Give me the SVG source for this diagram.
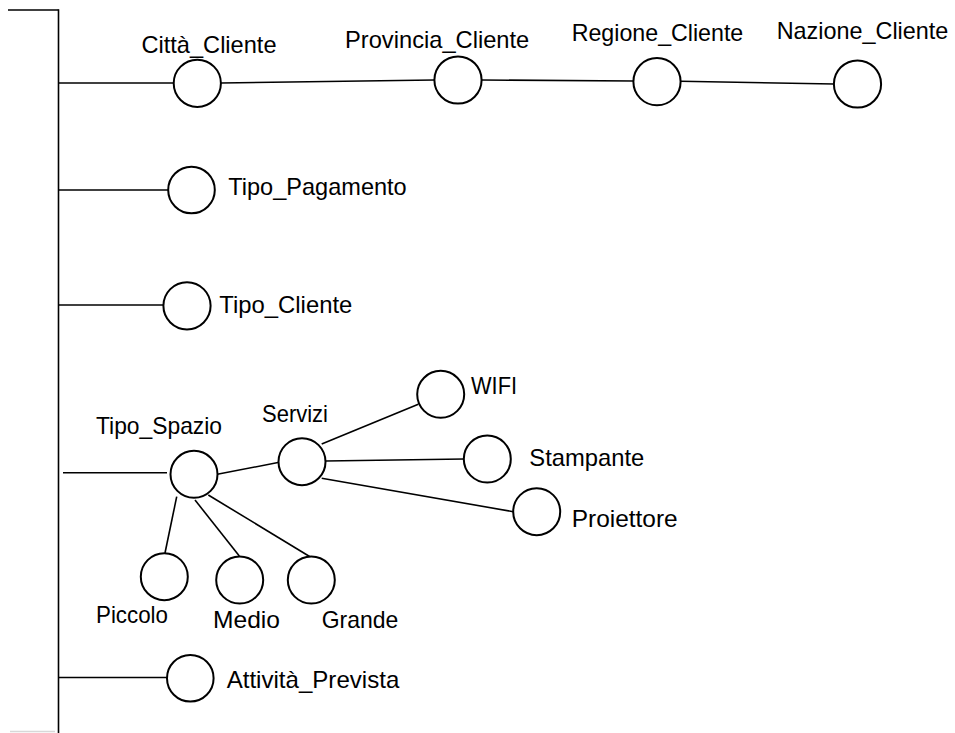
<svg xmlns="http://www.w3.org/2000/svg" width="955" height="733" viewBox="0 0 955 733">
  <style>
    .node circle { fill: #ffffff; stroke: #000000; stroke-width: 2; }
    .edges line { stroke: #000000; stroke-width: 1.6; }
    text { font-family: "Liberation Sans", Arial, sans-serif; font-size: 24px; fill: #000000; }
  </style>
  <rect width="955" height="733" fill="#ffffff"/>

  <!-- connectors -->
  <g id="edges" class="edges">
    <!-- main axis -->
    <line x1="8" y1="10" x2="58.5" y2="10"/>
    <line x1="58.5" y1="9.2" x2="58.5" y2="733"/>
    <line x1="10" y1="731.5" x2="55" y2="731.5" style="stroke:#d8d8d8"/>
    <!-- branches from axis -->
    <line x1="58.5" y1="83" x2="174" y2="83"/>
    <line x1="58.5" y1="190" x2="169" y2="190"/>
    <line x1="58.5" y1="305" x2="164" y2="305"/>
    <line x1="63" y1="472.7" x2="167" y2="472.7"/>
    <line x1="58.5" y1="677.5" x2="168" y2="677.5"/>
    <!-- customer geography chain -->
    <line x1="220.7" y1="83" x2="434.3" y2="80"/>
    <line x1="481.7" y1="80" x2="633.3" y2="81"/>
    <line x1="680.5" y1="81.2" x2="834" y2="84"/>
    <!-- space type -->
    <line x1="217.3" y1="474.3" x2="279.3" y2="462.3"/>
    <line x1="176.7" y1="496.7" x2="165" y2="553"/>
    <line x1="195" y1="500" x2="239.3" y2="556"/>
    <line x1="208.3" y1="495" x2="310" y2="556.7"/>
    <!-- services -->
    <line x1="321.7" y1="444" x2="418.3" y2="404.3"/>
    <line x1="325.5" y1="461" x2="464" y2="459"/>
    <line x1="321.7" y1="478.3" x2="513.3" y2="511.7"/>
  </g>

  <g id="citta_cliente" class="node">
    <circle cx="197.3" cy="83.3" r="23.6"/>
    <text x="141.5" y="53" textLength="135" lengthAdjust="spacingAndGlyphs">Città_Cliente</text>
  </g>
  <g id="provincia_cliente" class="node">
    <circle cx="458" cy="80" r="23.6"/>
    <text x="345" y="48.3" textLength="184.3" lengthAdjust="spacingAndGlyphs">Provincia_Cliente</text>
  </g>
  <g id="regione_cliente" class="node">
    <circle cx="657" cy="81.7" r="23.6"/>
    <text x="571.7" y="40.7" textLength="171.6" lengthAdjust="spacingAndGlyphs">Regione_Cliente</text>
  </g>
  <g id="nazione_cliente" class="node">
    <circle cx="857.5" cy="84" r="23.6"/>
    <text x="776.7" y="39.3" textLength="171.6" lengthAdjust="spacingAndGlyphs">Nazione_Cliente</text>
  </g>
  <g id="tipo_pagamento" class="node">
    <circle cx="191.5" cy="190" r="23.3"/>
    <text x="228.3" y="194.5" textLength="178.4" lengthAdjust="spacingAndGlyphs">Tipo_Pagamento</text>
  </g>
  <g id="tipo_cliente" class="node">
    <circle cx="187" cy="305.8" r="23.6"/>
    <text x="219.3" y="313" textLength="133" lengthAdjust="spacingAndGlyphs">Tipo_Cliente</text>
  </g>
  <g id="tipo_spazio" class="node">
    <circle cx="194" cy="474.3" r="23.5"/>
    <text x="96" y="434" textLength="126" lengthAdjust="spacingAndGlyphs">Tipo_Spazio</text>
  </g>
  <g id="servizi" class="node">
    <circle cx="302" cy="461.7" r="23.5"/>
    <text x="262" y="421.7" textLength="66" lengthAdjust="spacingAndGlyphs">Servizi</text>
  </g>
  <g id="wifi" class="node">
    <circle cx="440.7" cy="394.3" r="23.5"/>
    <text x="471" y="394.3" textLength="46" lengthAdjust="spacingAndGlyphs">WIFI</text>
  </g>
  <g id="stampante" class="node">
    <circle cx="487.3" cy="459" r="23.5"/>
    <text x="529.3" y="466" textLength="115" lengthAdjust="spacingAndGlyphs">Stampante</text>
  </g>
  <g id="proiettore" class="node">
    <circle cx="536.7" cy="511.7" r="23.5"/>
    <text x="571.7" y="526.7" textLength="106" lengthAdjust="spacingAndGlyphs">Proiettore</text>
  </g>
  <g id="piccolo" class="node">
    <circle cx="164.3" cy="576.7" r="23.5"/>
    <text x="96" y="623.3" textLength="72" lengthAdjust="spacingAndGlyphs">Piccolo</text>
  </g>
  <g id="medio" class="node">
    <circle cx="239.7" cy="580" r="23.5"/>
    <text x="213" y="627.7" textLength="67" lengthAdjust="spacingAndGlyphs">Medio</text>
  </g>
  <g id="grande" class="node">
    <circle cx="311.3" cy="580" r="23.5"/>
    <text x="321.7" y="628.3" textLength="76.6" lengthAdjust="spacingAndGlyphs">Grande</text>
  </g>
  <g id="attivita_prevista" class="node">
    <circle cx="190.3" cy="678.3" r="23.3"/>
    <text x="226.7" y="688.3" textLength="172.6" lengthAdjust="spacingAndGlyphs">Attività_Prevista</text>
  </g>
</svg>
